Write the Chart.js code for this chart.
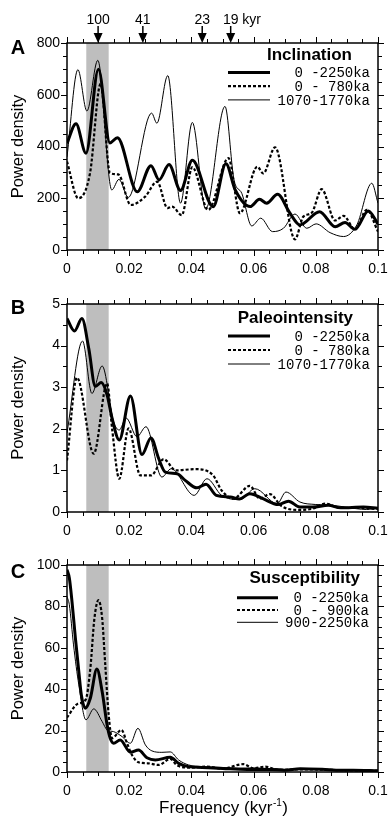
<!DOCTYPE html>
<html>
<head>
<meta charset="utf-8">
<script src="https://cdn.jsdelivr.net/npm/chart.js@4.4.1/dist/chart.umd.min.js"></script>
<style>
  html, body { margin: 0; padding: 0; background: #fff; }
  #wrap { position: relative; width: 388px; height: 817px; }
  canvas { position: absolute; left: 0; }
</style>
</head>
<body>
<div id="wrap">
  <canvas id="incl" width="388" height="282" style="top:0"></canvas>
  <canvas id="paleo" width="388" height="255" style="top:282px"></canvas>
  <canvas id="susc" width="388" height="280" style="top:537px"></canvas>
</div>
<script>
// frequency (kyr^-1) / power density

// A - Inclination
const inclLabels = ['  0 -2250ka', '  0 - 780ka', '1070-1770ka'];
const inclAllFreq = [0, .0029, .0061, .0101, .0138, .0162, .0226, .027, .0296, .0328, .0365, .0403, .047, .0511, .0541, .0589, .0619, .0642, .0677, .0717, .0749, .0812, .0862, .0894, .0926, .0969, .1];
const inclAllPower = [413, 488, 374, 699, 414, 434, 225, 326, 271, 330, 230, 347, 167, 333, 232, 168, 196, 181, 215, 142, 97, 148, 90, 106, 80, 151, 100];
const inclYoungFreq = [0, .0036, .0074, .0108, .0138, .0165, .0205, .0251, .029, .0323, .0338, .0369, .0403, .0454, .0519, .0556, .0612, .0631, .0669, .0733, .076, .0787, .0819, .0862, .0889, .0926, .0964, .1];
const inclYoungPower = [342, 200, 297, 642, 298, 292, 174, 206, 264, 162, 168, 135, 320, 155, 355, 142, 322, 296, 397, 41, 129, 144, 235, 114, 132, 80, 155, 71];
const inclOldFreq = [0, .0035, .0064, .0099, .0144, .0167, .0197, .0272, .0289, .0324, .0365, .0403, .0446, .0508, .0537, .0562, .0594, .0623, .0661, .0696, .0733, .0771, .0801, .0846, .0889, .0932, .098, .1];
const inclOldPower = [360, 697, 537, 733, 232, 273, 203, 529, 490, 674, 181, 493, 158, 555, 271, 219, 93, 123, 71, 84, 139, 84, 101, 67, 52, 97, 258, 181];

// B - Paleointensity
const paleoLabels = ['  0 -2250ka', '  0 - 780ka', '1070-1770ka'];
const paleoAllFreq = [0, .0024, .0048, .007, .0091, .011, .0129, .0145, .0168, .0204, .0241, .027, .0295, .0316, .0354, .038, .0418, .0447, .048, .0525, .0554, .0588, .063, .0679, .0712, .0749, .079, .084, .088, .0953, .1];
const paleoAllPower = [4.65, 4.35, 4.65, 3.93, 3.02, 3.11, 2.81, 2.25, 1.73, 2.79, 1.38, 1.78, 1.28, 0.96, 0.92, 0.76, 0.58, 0.67, 0.40, 0.36, 0.31, 0.44, 0.32, 0.18, 0.26, 0.12, 0.12, 0.16, 0.10, 0.12, 0.09];
const paleoYoungFreq = [0, .0032, .0086, .0129, .0145, .0168, .0198, .0236, .027, .0311, .035, .0413, .047, .0497, .0535, .0588, .062, .0652, .069, .0749, .079, .083, .088, .094, .1];
const paleoYoungPower = [1.24, 3.23, 1.40, 3.09, 2.0, 0.80, 2.01, 0.88, 0.88, 1.27, 1.0, 1.03, 0.88, 0.52, 0.32, 0.63, 0.32, 0.43, 0.14, 0.05, 0.08, 0.20, 0.10, 0.10, 0.07];
const paleoOldFreq = [0, .005, .008, .0113, .015, .0168, .019, .0225, .0254, .0305, .0335, .0409, .045, .0497, .0557, .0604, .0676, .0704, .0749, .08, .0856, .093, .0963, .1];
const paleoOldPower = [1.9, 4.11, 2.85, 3.51, 2.17, 1.97, 2.26, 1.81, 2.05, 0.84, 1.04, 0.40, 0.80, 0.40, 0.30, 0.56, 0.20, 0.48, 0.24, 0.18, 0.16, 0.08, 0.06, 0.10];

// C - Susceptibility
const suscLabels = [' 0 -2250ka', ' 0 - 900ka', '900-2250ka'];
const suscAllFreq = [0, .00075, .0016, .0027, .0038, .0046, .0059, .0075, .0096, .0113, .0129, .0139, .015, .0171, .0204, .023, .0257, .0284, .0332, .0359, .0391, .0434, .05, .058, .066, .07, .075, .082, .088, .092, .1];
const suscAllPower = [97.7, 93.7, 82.4, 64.7, 48.5, 37.3, 30.8, 35.6, 49.7, 38.9, 22.7, 16.3, 13.9, 15.5, 9.5, 10.6, 6.9, 5.8, 7.1, 4.2, 2.6, 2.2, 1.7, 1.2, 1.2, 0.9, 1.6, 1.3, 0.8, 0.9, 0.6];
const suscYoungFreq = [0, .0035, .006, .0075, .0088, .0101, .0113, .0123, .0134, .0145, .0175, .0193, .0209, .023, .026, .0295, .0332, .0355, .04, .045, .05, .0567, .06, .0637, .068, .075, .08, .09, .1];
const suscYoungPower = [26.3, 33, 35, 50, 74, 83, 74.3, 51.8, 27.6, 16.3, 20.3, 13.9, 8.2, 4.7, 4.2, 3.4, 6.3, 3.1, 2.1, 2.6, 1.6, 3.8, 1.8, 2.6, 1.0, 1.3, 1.2, 0.8, 0.5];
const suscOldFreq = [0, .00075, .0021, .0038, .0061, .0086, .0113, .0129, .015, .0177, .0204, .0228, .0252, .0273, .0305, .0332, .0359, .0391, .0434, .05, .055, .06, .065, .07, .075, .082, .09, .1];
const suscOldPower = [84.8, 80.8, 61.4, 42.1, 25.2, 30.5, 24.4, 20.3, 19.5, 17.1, 13.9, 21.1, 13.1, 10.2, 9.5, 9.7, 5.8, 3.4, 2.6, 2.2, 1.8, 2.0, 1.6, 1.2, 1.4, 1.2, 0.8, 0.8];

// shaded ~100 kyr band and orbital periods marked on top
const bandRange = [0.0062, 0.0134];
const orbitalPeriods = [100, 41, 23, 19];

const SANS = '"Liberation Sans", Arial, Helvetica, sans-serif';
const MONO = '"Liberation Mono", "Courier New", monospace';

const thick = { borderWidth: 3 };
const dotted = { borderWidth: 2.2, borderDash: [3, 2] };
const thin = { borderWidth: 1 };

function toPoints(freq, power) {
  return freq.map((f, i) => ({ x: f, y: power[i] }));
}

function lineSet(label, freq, power, style) {
  return Object.assign({
    label: label,
    data: toPoints(freq, power),
    borderColor: '#000',
    backgroundColor: '#000',
    pointRadius: 0,
    fill: false,
    cubicInterpolationMode: 'monotone'
  }, style);
}

function decorPlugin(d) {
  return {
    id: 'decor' + d.letter,
    beforeDatasetsDraw(chart) {
      const { ctx, chartArea: a, scales: { x } } = chart;
      const x0 = x.getPixelForValue(bandRange[0]);
      const x1 = x.getPixelForValue(bandRange[1]);
      ctx.save();
      ctx.fillStyle = '#bebebe';
      ctx.fillRect(x0, a.top, x1 - x0, a.bottom - a.top);
      ctx.restore();
    },
    afterDraw(chart) {
      const { ctx, chartArea: a, scales: { x, y } } = chart;
      ctx.save();
      ctx.strokeStyle = '#000';
      ctx.fillStyle = '#000';

      // tick marks on all four sides
      ctx.lineWidth = 1;
      ctx.beginPath();
      for (let i = 0; i <= 20; i++) {
        const px = Math.round(x.getPixelForValue(i * 0.005)) + 0.5;
        const len = i % 4 === 0 ? 6 : 4;
        ctx.moveTo(px, a.bottom); ctx.lineTo(px, a.bottom + len);
        ctx.moveTo(px, a.top); ctx.lineTo(px, a.top - len);
      }
      const n = Math.round(d.yMax / d.yMinor);
      for (let j = 0; j <= n; j++) {
        const py = Math.round(y.getPixelForValue(j * d.yMinor)) + 0.5;
        const len = j % d.majorEvery === 0 ? 6 : 4;
        ctx.moveTo(a.left, py); ctx.lineTo(a.left - len, py);
        ctx.moveTo(a.right, py); ctx.lineTo(a.right + len, py);
      }
      ctx.stroke();

      ctx.lineWidth = 1.5;
      ctx.strokeRect(a.left, a.top, a.right - a.left, a.bottom - a.top);

      // panel letter
      ctx.font = 'bold 20px ' + SANS;
      ctx.textAlign = 'center';
      ctx.textBaseline = 'middle';
      ctx.fillText(d.letter, 18, a.top + d.letterDy);

      // legend
      ctx.font = 'bold 17px ' + SANS;
      ctx.textAlign = 'right';
      ctx.fillText(d.title, d.titleRight, a.top + d.titleDy);
      ctx.font = '14px ' + MONO;
      chart.data.datasets.forEach((ds, k) => {
        const ly = a.top + d.rowDy + k * d.rowGap;
        ctx.lineWidth = ds.borderWidth;
        ctx.setLineDash(ds.borderDash || []);
        ctx.beginPath();
        ctx.moveTo(d.lineX[0], ly);
        ctx.lineTo(d.lineX[1], ly);
        ctx.stroke();
        ctx.setLineDash([]);
        ctx.fillText(ds.label, d.textRight, ly + 1);
      });

      // orbital period arrows
      if (d.arrows) {
        ctx.font = '14px ' + SANS;
        ctx.textAlign = 'left';
        orbitalPeriods.forEach((p, k) => {
          const px = x.getPixelForValue(1 / p);
          ctx.lineWidth = 1.5;
          ctx.beginPath();
          ctx.moveTo(px, a.top - 17);
          ctx.lineTo(px, a.top - 9);
          ctx.stroke();
          ctx.beginPath();
          ctx.moveTo(px - 4.5, a.top - 10);
          ctx.lineTo(px + 4.5, a.top - 10);
          ctx.lineTo(px, a.top);
          ctx.closePath();
          ctx.fill();
          const num = String(p);
          const w = ctx.measureText(num).width;
          const txt = k === orbitalPeriods.length - 1 ? num + ' kyr' : num;
          ctx.fillText(txt, px - w / 2, a.top - 23);
        });
      }

      // x axis title with superscript
      if (d.xTitle) {
        const main = 'Frequency (kyr', sup = '-1', end = ')';
        ctx.textAlign = 'left';
        ctx.textBaseline = 'alphabetic';
        ctx.font = '17px ' + SANS;
        const wMain = ctx.measureText(main).width;
        const wEnd = ctx.measureText(end).width;
        ctx.font = '10px ' + SANS;
        const wSup = ctx.measureText(sup).width;
        const cx = (a.left + a.right) / 2 + 1;
        let sx = cx - (wMain + wSup + wEnd + 1) / 2;
        const base = chart.height - 4;
        ctx.font = '17px ' + SANS;
        ctx.fillText(main, sx, base);
        sx += wMain + 0.5;
        ctx.font = '10px ' + SANS;
        ctx.fillText(sup, sx, base - 7);
        sx += wSup + 0.5;
        ctx.font = '17px ' + SANS;
        ctx.fillText(end, sx, base);
      }
      ctx.restore();
    }
  };
}

function makePanel(id, p) {
  return new Chart(document.getElementById(id), {
    type: 'line',
    data: {
      datasets: [
        lineSet(p.labels[0], p.series[0][0], p.series[0][1], thick),
        lineSet(p.labels[1], p.series[1][0], p.series[1][1], dotted),
        lineSet(p.labels[2], p.series[2][0], p.series[2][1], thin)
      ]
    },
    options: {
      responsive: false,
      animation: false,
      layout: { padding: { top: p.padTop, right: 10, bottom: p.padBottom, left: 0 } },
      plugins: { legend: { display: false }, tooltip: { enabled: false } },
      scales: {
        x: {
          type: 'linear',
          min: 0,
          max: 0.1,
          grid: { display: false, drawTicks: false },
          border: { display: false },
          ticks: {
            stepSize: 0.02,
            padding: 11,
            color: '#000',
            maxRotation: 0,
            autoSkip: false,
            font: { family: SANS, size: 14 },
            callback: v => String(+(+v).toFixed(2))
          },
          afterFit: s => { s.height = p.xHeight; s.paddingLeft = 0; s.paddingRight = 0; }
        },
        y: {
          type: 'linear',
          min: 0,
          max: p.yMax,
          grid: { display: false, drawTicks: false },
          border: { display: false },
          ticks: {
            stepSize: p.yStep,
            padding: 7,
            color: '#000',
            font: { family: SANS, size: 14 }
          },
          title: {
            display: true,
            text: 'Power density',
            color: '#000',
            font: { family: SANS, size: 16.5 },
            padding: { top: 9, bottom: 0 }
          },
          afterFit: s => { s.width = 67; s.paddingTop = 0; s.paddingBottom = 0; }
        }
      }
    },
    plugins: [decorPlugin(p.decor)]
  });
}

makePanel('incl', {
  labels: inclLabels,
  series: [[inclAllFreq, inclAllPower], [inclYoungFreq, inclYoungPower], [inclOldFreq, inclOldPower]],
  padTop: 43, padBottom: 2, xHeight: 30,
  yMax: 800, yStep: 200,
  decor: {
    letter: 'A', letterDy: 5, title: 'Inclination', titleRight: 352, titleDy: 12,
    rowDy: 29.5, rowGap: 13.7, lineX: [228, 270], textRight: 370,
    yMax: 800, yMinor: 50, majorEvery: 4, arrows: true
  }
});

makePanel('paleo', {
  labels: paleoLabels,
  series: [[paleoAllFreq, paleoAllPower], [paleoYoungFreq, paleoYoungPower], [paleoOldFreq, paleoOldPower]],
  padTop: 22, padBottom: 0, xHeight: 25,
  yMax: 5, yStep: 1,
  decor: {
    letter: 'B', letterDy: 4, title: 'Paleointensity', titleRight: 353, titleDy: 14,
    rowDy: 32, rowGap: 14, lineX: [228, 270], textRight: 370,
    yMax: 5, yMinor: 0.5, majorEvery: 2
  }
});

makePanel('susc', {
  labels: suscLabels,
  series: [[suscAllFreq, suscAllPower], [suscYoungFreq, suscYoungPower], [suscOldFreq, suscOldPower]],
  padTop: 28, padBottom: 15, xHeight: 30,
  yMax: 100, yStep: 20,
  decor: {
    letter: 'C', letterDy: 7, title: 'Susceptibility', titleRight: 360, titleDy: 13,
    rowDy: 32.7, rowGap: 12.3, lineX: [237, 278], textRight: 369,
    yMax: 100, yMinor: 5, majorEvery: 4, xTitle: true
  }
});
</script>
</body>
</html>
